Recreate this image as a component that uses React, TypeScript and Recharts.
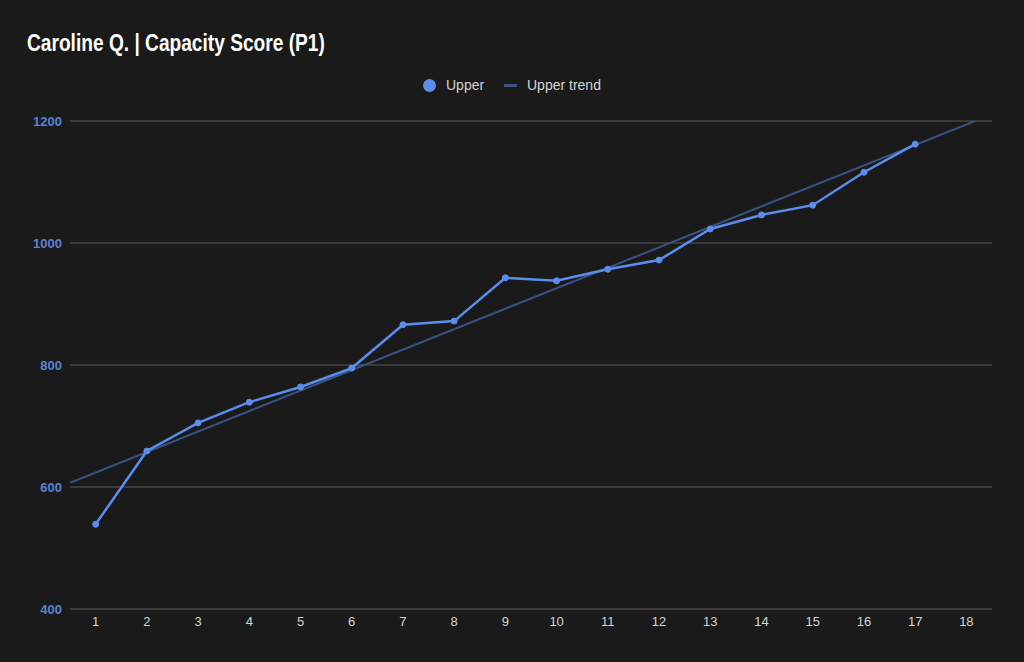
import { CartesianGrid, Line, LineChart, XAxis, YAxis } from 'recharts';

const BG = '#1a1a1a';
const GRID = '#444444';
const UPPER_COLOR = '#5b8def';
const TREND_COLOR = '#3a5380';

// sessions 1..17
const sessions = [1, 2, 3, 4, 5, 6, 7, 8, 9, 10, 11, 12, 13, 14, 15, 16, 17];
const upperScores = [
  539, 659, 705, 739, 764, 795, 866, 872, 943, 938, 957, 972, 1023, 1046, 1062,
  1116, 1162,
];

// trend line endpoints read at the plot edges
const trendX = [0.5, 18.5];
const trendY = [607, 1211];

const xTicks = [1, 2, 3, 4, 5, 6, 7, 8, 9, 10, 11, 12, 13, 14, 15, 16, 17, 18];
const yTicks = [400, 600, 800, 1000, 1200];

const upperData = sessions.map((x, i) => ({ x, upper: upperScores[i] }));
const trendData = trendX.map((x, i) => ({ x, trend: trendY[i] }));

const FONT = '"Liberation Sans", Arial, Helvetica, sans-serif';

function LegendBar() {
  const text = {
    position: 'absolute' as const,
    top: 77,
    fontSize: 14,
    lineHeight: '16px',
    color: '#d4d4d4',
    whiteSpace: 'nowrap' as const,
  };
  return (
    <>
      <span
        style={{
          position: 'absolute',
          left: 423,
          top: 79,
          width: 13,
          height: 13,
          borderRadius: '50%',
          background: UPPER_COLOR,
        }}
      />
      <span style={{ ...text, left: 446 }}>Upper</span>
      <span
        style={{
          position: 'absolute',
          left: 504,
          top: 84,
          width: 13,
          height: 3,
          background: TREND_COLOR,
        }}
      />
      <span style={{ ...text, left: 527 }}>Upper trend</span>
    </>
  );
}

export default function App() {
  return (
    <div
      style={{
        position: 'fixed',
        left: 0,
        top: 0,
        width: 1024,
        height: 662,
        background: BG,
        fontFamily: FONT,
      }}
    >
      <div
        style={{
          position: 'absolute',
          left: 27,
          top: 30,
          color: '#ffffff',
          fontSize: 23,
          fontWeight: 'bold',
          whiteSpace: 'nowrap',
          transform: 'scaleX(0.832)',
          transformOrigin: 'left top',
        }}
      >
        Caroline Q. | Capacity Score (P1)
      </div>
      <LegendBar />
      <LineChart
        width={1024}
        height={662}
        margin={{ top: 121, right: 32, bottom: 23, left: 10 }}
      >
        <CartesianGrid stroke={GRID} strokeWidth={1.3} vertical={false} />
        <XAxis
          type="number"
          dataKey="x"
          domain={[0.5, 18.5]}
          ticks={xTicks}
          allowDataOverflow
          axisLine={false}
          tickLine={false}
          height={30}
          tick={{ fontSize: 13, fill: '#d4d4d4', fontFamily: FONT }}
        />
        <YAxis
          type="number"
          domain={[400, 1200]}
          ticks={yTicks}
          allowDataOverflow
          axisLine={false}
          tickLine={false}
          width={60}
          tick={{
            fontSize: 13,
            fill: '#5b82d6',
            fontWeight: 'bold',
            fontFamily: FONT,
          }}
        />
        <Line
          data={trendData}
          dataKey="trend"
          name="Upper trend"
          stroke={TREND_COLOR}
          strokeWidth={2}
          dot={false}
          activeDot={false}
          isAnimationActive={false}
        />
        <Line
          data={upperData}
          dataKey="upper"
          name="Upper"
          stroke={UPPER_COLOR}
          strokeWidth={2.5}
          dot={{ r: 3, fill: UPPER_COLOR, stroke: UPPER_COLOR, strokeWidth: 1 }}
          activeDot={false}
          isAnimationActive={false}
        />
      </LineChart>
    </div>
  );
}
